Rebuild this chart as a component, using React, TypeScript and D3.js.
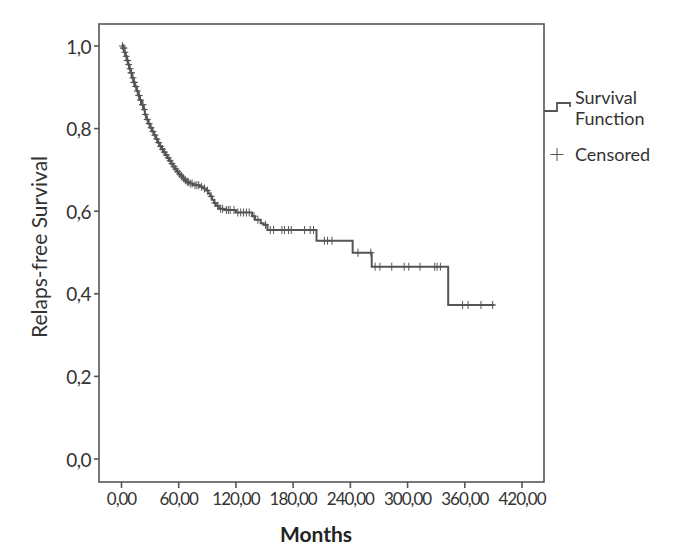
import * as d3 from 'd3';

// Kaplan-Meier steps: month of each event and survival just after it
const eventMonths = [
  1.5, 3, 4, 5.5, 7, 8, 9.5, 11, 12.5, 14, 16, 17.5, 19, 21, 23, 24.5, 26, 28, 30, 32,
  34, 36, 38, 40, 42, 44, 46, 48, 50, 52, 54, 56, 58, 60, 62, 64, 66, 68, 71, 75,
  82, 86, 89, 91, 93, 95, 97, 99, 102, 108, 120, 137, 140, 146, 149, 153,
  204.5, 242.4, 262.4, 342.6,
];
const eventSurvival = [
  0.995, 0.985, 0.975, 0.965, 0.955, 0.945, 0.935, 0.923, 0.912, 0.902, 0.891, 0.88, 0.869, 0.858, 0.846, 0.834, 0.822, 0.812, 0.802, 0.793,
  0.784, 0.775, 0.766, 0.757, 0.75, 0.743, 0.736, 0.729, 0.722, 0.715, 0.708, 0.702, 0.696, 0.69, 0.685, 0.68, 0.675, 0.671, 0.667, 0.663,
  0.659, 0.655, 0.65, 0.643, 0.636, 0.628, 0.62, 0.613, 0.606, 0.603, 0.597, 0.588, 0.579, 0.571, 0.567, 0.5545,
  0.5286, 0.4995, 0.4656, 0.3729,
];
const lastFollowUp = 391;

const censoredMonths = [
  1, 2, 2.5, 3.5, 5, 6, 6.5, 7.5, 9, 10, 10.5, 12, 13, 13.5, 15, 16.5, 18, 18.5, 20, 22,
  22.5, 24, 25, 27, 29, 31, 33, 35, 37, 39, 41, 43, 45, 47, 49, 51, 53, 55, 57, 59,
  61, 63, 65, 67, 69, 70, 72, 74, 77, 79, 81, 84, 87, 90, 94, 98, 101, 104, 106, 110,
  112, 114, 118, 122, 125, 128, 131, 134, 139, 143, 151,
  156, 159.5, 168.2, 171, 175.1, 178, 192, 197.9, 201.4,
  212.8, 216.1, 220.7, 248, 261.5,
  266, 271, 283.4, 296.5, 301.3, 313, 328.5, 331, 334.4,
  357.7, 363.5, 377, 389.2,
];

const xTicks = [0, 60, 120, 180, 240, 300, 360, 420];
const yTicks = [0, 0.2, 0.4, 0.6, 0.8, 1.0];

const W = 677;
const H = 546;
const frame = { left: 99, right: 544, top: 24, bottom: 482 };
const ink = '#555';
const textInk = '#333';
const font = 'Lato, "Open Sans", sans-serif';

export default function App() {
  const x = d3.scaleLinear().domain([0, 420]).range([121.5, 522]);
  const y = d3.scaleLinear().domain([0, 1]).range([459, 46]);

  const steps: [number, number][] = [[0, 1]];
  eventMonths.forEach((t, i) => steps.push([t, eventSurvival[i]]));
  steps.push([lastFollowUp, eventSurvival[eventSurvival.length - 1]]);

  const survivalAt = (t: number) => {
    let s = 1;
    eventMonths.forEach((m, i) => {
      if (m <= t) s = eventSurvival[i];
    });
    return s;
  };

  const line = d3.line<[number, number]>()
    .x((d) => x(d[0]))
    .y((d) => y(d[1]))
    .curve(d3.curveStepAfter);

  const fmtX = (v: number) => v.toFixed(2).replace('.', ',');
  const fmtY = (v: number) => v.toFixed(1).replace('.', ',');

  return (
    <svg width={W} height={H} style={{ position: 'absolute', left: 0, top: 0, background: '#fff' }}>
      <rect
        x={frame.left}
        y={frame.top}
        width={frame.right - frame.left}
        height={frame.bottom - frame.top}
        fill="none"
        stroke={ink}
        strokeWidth={1.6}
      />

      {/* y axis */}
      {yTicks.map((t) => (
        <g key={`y${t}`}>
          <line x1={frame.left - 5} x2={frame.left} y1={y(t)} y2={y(t)} stroke={ink} strokeWidth={1.6} />
          <text
            x={frame.left - 8}
            y={y(t)}
            textAnchor="end"
            dominantBaseline="central"
            fill={textInk}
            fontFamily={font}
            fontSize={19}
            letterSpacing={-0.5}
          >
            {fmtY(t)}
          </text>
        </g>
      ))}

      {/* x axis */}
      {xTicks.map((t) => (
        <g key={`x${t}`}>
          <line x1={x(t)} x2={x(t)} y1={frame.bottom} y2={frame.bottom + 6} stroke={ink} strokeWidth={1.6} />
          <text
            x={x(t)}
            y={frame.bottom + 16}
            textAnchor="middle"
            dominantBaseline="central"
            fill={textInk}
            fontFamily={font}
            fontSize={17}
            letterSpacing={-1}
          >
            {fmtX(t)}
          </text>
        </g>
      ))}

      <text
        x={316}
        y={533}
        textAnchor="middle"
        dominantBaseline="central"
        fill="#222"
        fontFamily={font}
        fontSize={21}
        fontWeight={700}
      >
        Months
      </text>
      <text
        transform={`translate(38,247) rotate(-90)`}
        textAnchor="middle"
        dominantBaseline="central"
        fill={textInk}
        fontFamily={font}
        fontSize={21}
      >
        Relaps-free Survival
      </text>

      {/* survival curve */}
      <path d={line(steps) ?? ''} fill="none" stroke={ink} strokeWidth={2} />

      {/* censored marks */}
      {censoredMonths.map((t, i) => {
        const cx = x(t);
        const cy = y(survivalAt(t));
        return (
          <g key={`c${i}`} stroke={ink} strokeWidth={1}>
            <line x1={cx} x2={cx} y1={cy - 4} y2={cy + 4} />
            <line x1={cx - 3.5} x2={cx + 3.5} y1={cy} y2={cy} />
          </g>
        );
      })}

      {/* legend */}
      <path
        d={`M${frame.right},111 H557 V103 H570 V107`}
        fill="none"
        stroke={ink}
        strokeWidth={1.8}
      />
      <text x={575} y={97} dominantBaseline="central" fill={textInk} fontFamily={font} fontSize={18}>
        Survival
      </text>
      <text x={575} y={118} dominantBaseline="central" fill={textInk} fontFamily={font} fontSize={18}>
        Function
      </text>
      <g stroke={ink} strokeWidth={1}>
        <line x1={557} x2={557} y1={148} y2={161} />
        <line x1={550.5} x2={563.5} y1={154.5} y2={154.5} />
      </g>
      <text x={575} y={154} dominantBaseline="central" fill={textInk} fontFamily={font} fontSize={18}>
        Censored
      </text>
    </svg>
  );
}
